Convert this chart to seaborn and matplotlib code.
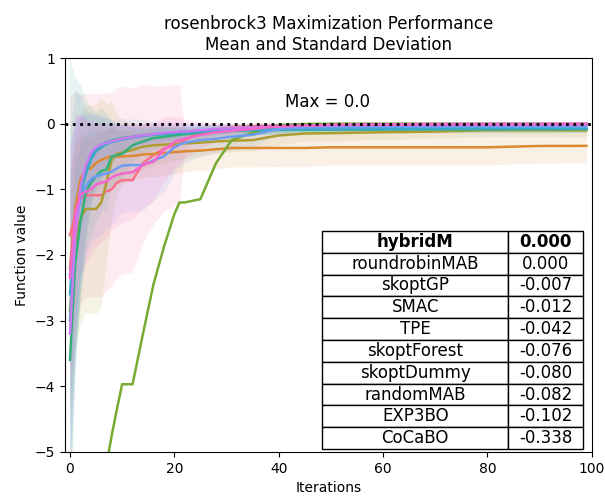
import matplotlib
matplotlib.use("Agg")
import matplotlib.pyplot as plt
import seaborn as sns
import pandas as pd

iters = [0, 1, 2, 3, 4, 5, 6, 7, 8, 9, 10, 12, 14, 16, 18, 20, 21, 22, 25, 28, 31, 35, 40, 45, 50, 60, 70, 80, 90, 99]

methods = ["SMAC", "CoCaBO", "EXP3BO", "hybridM", "randomMAB",
           "skoptDummy", "skoptForest", "TPE", "roundrobinMAB", "skoptGP"]

smac_mean = [-1.70, -1.40, -1.15, -1.09, -1.09, -1.09, -1.09, -1.03, -1.00, -0.90, -0.86,
             -0.86, -0.60, -0.48, -0.38, -0.33, -0.30, -0.25, -0.13, -0.09, -0.06, -0.04,
             -0.03, -0.025, -0.02, -0.018, -0.015, -0.013, -0.012, -0.012]
smac_std = [2.10, 1.90, 1.60, 1.55, 1.55, 1.55, 1.55, 1.50, 1.48, 1.45, 1.43,
            1.40, 1.20, 1.05, 0.95, 0.92, 0.90, 0.15, 0.10, 0.08, 0.06, 0.05,
            0.04, 0.035, 0.03, 0.03, 0.025, 0.02, 0.02, 0.02]

cocabo_mean = [-2.20, -1.30, -0.85, -0.70, -0.68, -0.60, -0.55, -0.52, -0.50, -0.50, -0.50,
               -0.49, -0.47, -0.46, -0.45, -0.43, -0.43, -0.42, -0.41, -0.39, -0.37, -0.37,
               -0.37, -0.37, -0.36, -0.36, -0.36, -0.36, -0.34, -0.338]
cocabo_std = [1.50, 1.00, 0.70, 0.50, 0.45, 0.45, 0.45, 0.45, 0.45, 0.42, 0.40,
              0.36, 0.35, 0.35, 0.34, 0.33, 0.32, 0.31, 0.30, 0.30, 0.29, 0.29,
              0.28, 0.28, 0.27, 0.27, 0.27, 0.27, 0.26, 0.26]

exp3bo_mean = [-2.85, -1.82, -1.45, -1.30, -1.30, -1.30, -1.20, -0.90, -0.55, -0.46, -0.44,
               -0.40, -0.35, -0.33, -0.32, -0.31, -0.31, -0.30, -0.29, -0.27, -0.26, -0.25,
               -0.18, -0.15, -0.145, -0.13, -0.12, -0.10, -0.10, -0.102]
exp3bo_std = [1.80, 1.65, 1.60, 1.58, 1.58, 1.60, 1.60, 1.20, 0.90, 0.60, 0.50,
              0.40, 0.35, 0.30, 0.28, 0.25, 0.24, 0.23, 0.20, 0.18, 0.17, 0.16,
              0.14, 0.12, 0.12, 0.11, 0.10, 0.10, 0.10, 0.10]

hybridm_mean = [-9.80, -8.90, -8.10, -7.40, -6.80, -6.20, -5.70, -5.20, -4.75, -4.35, -3.97,
                -3.97, -3.20, -2.45, -1.88, -1.38, -1.20, -1.20, -1.15, -0.60, -0.25, -0.14,
                -0.02, -0.005, 0.0, 0.0, 0.0, 0.0, 0.0, 0.0]
hybridm_std = [0.0, 0.0, 0.0, 0.0, 0.0, 0.0, 0.0, 0.0, 0.0, 0.0, 0.0,
               0.0, 0.0, 0.0, 0.0, 0.0, 0.0, 0.0, 0.0, 0.0, 0.0, 0.0,
               0.0, 0.0, 0.0, 0.0, 0.0, 0.0, 0.0, 0.0]

randommab_mean = [-3.60, -2.13, -1.50, -1.06, -0.90, -0.80, -0.72, -0.70, -0.50, -0.48, -0.46,
                  -0.33, -0.27, -0.22, -0.20, -0.18, -0.17, -0.16, -0.14, -0.12, -0.11, -0.10,
                  -0.095, -0.09, -0.088, -0.086, -0.085, -0.083, -0.082, -0.082]
randommab_std = [2.00, 1.50, 1.20, 0.90, 0.80, 0.70, 0.60, 0.60, 0.45, 0.40, 0.35,
                 0.25, 0.20, 0.17, 0.15, 0.13, 0.12, 0.12, 0.10, 0.09, 0.08, 0.07,
                 0.06, 0.06, 0.05, 0.05, 0.05, 0.05, 0.05, 0.05]

skoptdummy_mean = [-3.00, -1.60, -1.00, -0.70, -0.50, -0.38, -0.32, -0.28, -0.26, -0.24, -0.22,
                   -0.20, -0.18, -0.16, -0.15, -0.14, -0.13, -0.13, -0.11, -0.10, -0.095, -0.09,
                   -0.088, -0.086, -0.085, -0.084, -0.083, -0.082, -0.081, -0.080]
skoptdummy_std = [4.00, 2.30, 1.60, 1.10, 0.75, 0.55, 0.56, 0.45, 0.30, 0.25, 0.20,
                  0.15, 0.13, 0.12, 0.11, 0.10, 0.10, 0.09, 0.08, 0.07, 0.07, 0.06,
                  0.05, 0.05, 0.05, 0.05, 0.04, 0.04, 0.04, 0.04]

skoptforest_mean = [-2.60, -1.50, -1.05, -0.78, -0.55, -0.42, -0.36, -0.31, -0.28, -0.26, -0.24,
                    -0.21, -0.19, -0.17, -0.16, -0.15, -0.14, -0.14, -0.12, -0.11, -0.10, -0.095,
                    -0.09, -0.087, -0.085, -0.083, -0.080, -0.078, -0.077, -0.076]
skoptforest_std = [2.50, 2.00, 1.50, 1.00, 0.70, 0.55, 0.45, 0.40, 0.30, 0.25, 0.22,
                   0.18, 0.15, 0.13, 0.12, 0.11, 0.10, 0.10, 0.09, 0.08, 0.08, 0.07,
                   0.07, 0.06, 0.06, 0.06, 0.06, 0.06, 0.06, 0.06]

tpe_mean = [-2.30, -1.60, -1.15, -0.95, -0.85, -0.80, -0.78, -0.76, -0.73, -0.68, -0.64,
            -0.63, -0.63, -0.56, -0.50, -0.36, -0.32, -0.29, -0.25, -0.23, -0.20, -0.17,
            -0.08, -0.06, -0.055, -0.05, -0.047, -0.045, -0.043, -0.042]
tpe_std = [2.00, 1.60, 1.30, 1.10, 1.00, 0.95, 0.90, 0.85, 0.80, 0.75, 0.72,
           0.70, 0.70, 0.60, 0.55, 0.40, 0.35, 0.30, 0.25, 0.22, 0.20, 0.18,
           0.08, 0.06, 0.05, 0.04, 0.04, 0.04, 0.04, 0.04]

roundrobin_mean = [-3.20, -1.72, -0.96, -0.65, -0.45, -0.36, -0.32, -0.29, -0.27, -0.25, -0.23,
                   -0.20, -0.18, -0.16, -0.14, -0.13, -0.12, -0.12, -0.10, -0.08, -0.07, -0.06,
                   -0.04, -0.03, -0.02, -0.01, -0.005, -0.002, -0.001, 0.0]
roundrobin_std = [2.40, 1.80, 1.10, 0.75, 0.50, 0.38, 0.34, 0.30, 0.27, 0.25, 0.23,
                  0.20, 0.18, 0.16, 0.15, 0.14, 0.13, 0.12, 0.10, 0.08, 0.07, 0.06,
                  0.05, 0.04, 0.03, 0.02, 0.01, 0.01, 0.005, 0.0]

skoptgp_mean = [-2.35, -1.36, -1.08, -1.04, -1.00, -0.93, -0.90, -0.88, -0.82, -0.78, -0.76,
                -0.74, -0.63, -0.58, -0.40, -0.28, -0.25, -0.23, -0.17, -0.13, -0.11, -0.08,
                -0.04, -0.03, -0.02, -0.015, -0.012, -0.010, -0.008, -0.007]
skoptgp_std = [2.00, 1.50, 1.20, 1.10, 1.00, 0.95, 0.90, 0.85, 0.80, 0.78, 0.75,
               0.72, 0.65, 0.60, 0.50, 0.40, 0.35, 0.30, 0.20, 0.15, 0.10, 0.08,
               0.05, 0.04, 0.03, 0.02, 0.02, 0.02, 0.02, 0.02]

# final ranking table
table_names = ["hybridM", "roundrobinMAB", "skoptGP", "SMAC", "TPE",
               "skoptForest", "skoptDummy", "randomMAB", "EXP3BO", "CoCaBO"]
table_values = [0.000, 0.000, -0.007, -0.012, -0.042, -0.076, -0.080, -0.082, -0.102, -0.338]

means = [smac_mean, cocabo_mean, exp3bo_mean, hybridm_mean, randommab_mean,
         skoptdummy_mean, skoptforest_mean, tpe_mean, roundrobin_mean, skoptgp_mean]
stds = [smac_std, cocabo_std, exp3bo_std, hybridm_std, randommab_std,
        skoptdummy_std, skoptforest_std, tpe_std, roundrobin_std, skoptgp_std]

rows = []
for name, m, s in zip(methods, means, stds):
    for it, mv, sv in zip(iters, m, s):
        rows.append({"iter": it, "mean": mv, "std": sv, "method": name})
df = pd.DataFrame(rows)

colors = sns.color_palette("husl", len(methods))

fig, ax = plt.subplots(figsize=(6.05, 4.96), dpi=100)
fig.subplots_adjust(left=0.107, right=0.978, bottom=0.089, top=0.883)

# shaded +/- one std band for every method
for name, c in zip(methods, colors):
    d = df[df["method"] == name]
    ax.fill_between(d["iter"], d["mean"] - d["std"], d["mean"] + d["std"],
                    color=c, alpha=0.12, linewidth=0)

sns.lineplot(data=df, x="iter", y="mean", hue="method", hue_order=methods,
             palette=colors, linewidth=1.8, legend=False, errorbar=None, ax=ax)

ax.axhline(0, color="black", linestyle=":", linewidth=2, zorder=3)
ax.text(41.3, 0.25, "Max = 0.0", fontsize=12)

ax.set_xlim(-1, 100)
ax.set_ylim(-5, 1)
ax.set_xlabel("Iterations")
ax.set_ylabel("Function value")
ax.set_title("rosenbrock3 Maximization Performance\nMean and Standard Deviation", fontsize=12)

cell_text = [[n, f"{v:.3f}"] for n, v in zip(table_names, table_values)]
tab = ax.table(cellText=cell_text, cellLoc="center", colWidths=[0.712, 0.288],
               bbox=[0.489, 0.007, 0.495, 0.554])
tab.auto_set_font_size(False)
tab.set_fontsize(12)
for (r, c), cell in tab.get_celld().items():
    cell.set_edgecolor("black")
    if r == 0:
        cell.get_text().set_fontweight("bold")

plt.savefig("out.png", dpi=100)
